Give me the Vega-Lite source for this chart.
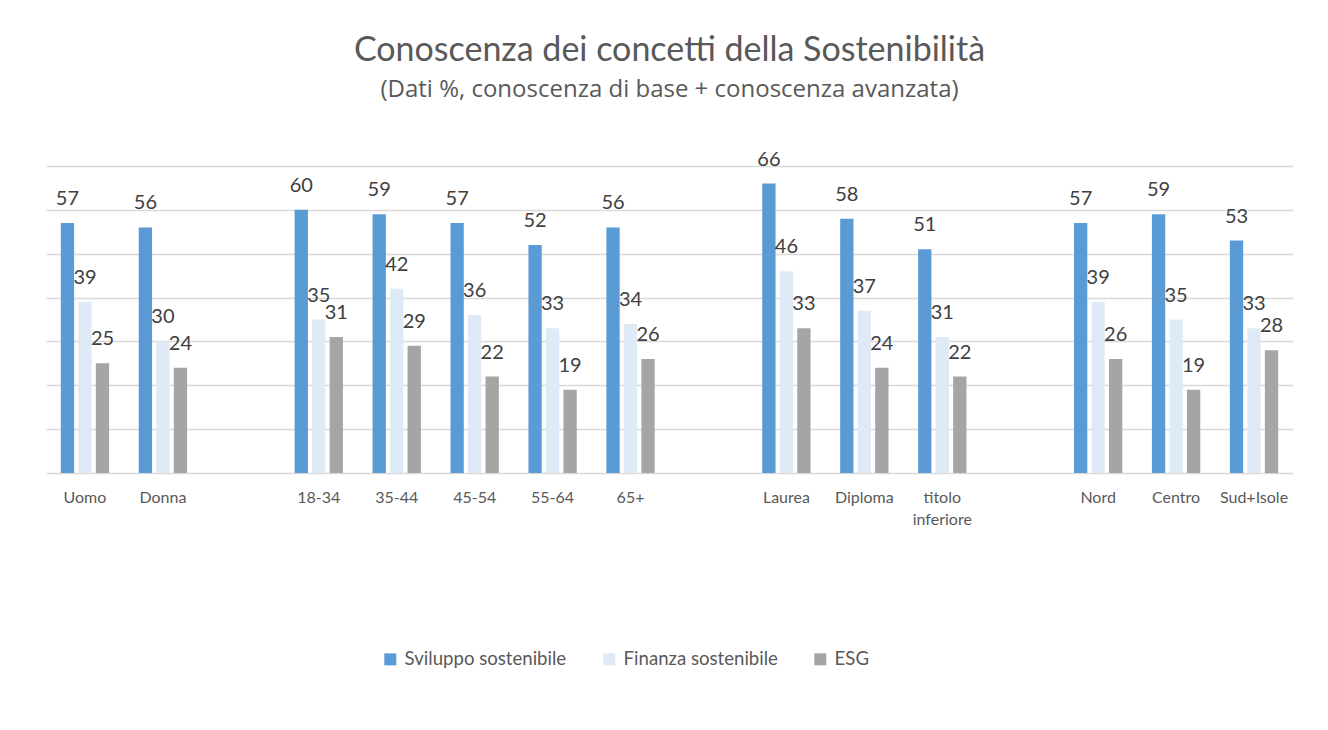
{
  "$schema": "https://vega.github.io/schema/vega-lite/v6.json",
  "width": 1247,
  "height": 307,
  "autosize": {"type": "none"},
  "padding": {"left": 46, "top": 166, "right": 35, "bottom": 257},
  "background": "white",
  "title": {
    "text": "Conoscenza dei concetti della Sostenibilità",
    "subtitle": "(Dati %, conoscenza di base + conoscenza avanzata)",
    "anchor": "middle",
    "font": "Lato",
    "fontSize": 34,
    "fontWeight": "normal",
    "color": "#595959",
    "subtitleFont": "Open Sans",
    "subtitleFontSize": 24,
    "subtitleColor": "#595959",
    "subtitlePadding": 10,
    "offset": 48
  },
  "data": {
    "values": [
      {"cat": "Uomo", "serie": "Sviluppo sostenibile", "v": 57},
      {"cat": "Uomo", "serie": "Finanza sostenibile", "v": 39},
      {"cat": "Uomo", "serie": "ESG", "v": 25},
      {"cat": "Donna", "serie": "Sviluppo sostenibile", "v": 56},
      {"cat": "Donna", "serie": "Finanza sostenibile", "v": 30},
      {"cat": "Donna", "serie": "ESG", "v": 24},
      {"cat": "18-34", "serie": "Sviluppo sostenibile", "v": 60},
      {"cat": "18-34", "serie": "Finanza sostenibile", "v": 35},
      {"cat": "18-34", "serie": "ESG", "v": 31},
      {"cat": "35-44", "serie": "Sviluppo sostenibile", "v": 59},
      {"cat": "35-44", "serie": "Finanza sostenibile", "v": 42},
      {"cat": "35-44", "serie": "ESG", "v": 29},
      {"cat": "45-54", "serie": "Sviluppo sostenibile", "v": 57},
      {"cat": "45-54", "serie": "Finanza sostenibile", "v": 36},
      {"cat": "45-54", "serie": "ESG", "v": 22},
      {"cat": "55-64", "serie": "Sviluppo sostenibile", "v": 52},
      {"cat": "55-64", "serie": "Finanza sostenibile", "v": 33},
      {"cat": "55-64", "serie": "ESG", "v": 19},
      {"cat": "65+", "serie": "Sviluppo sostenibile", "v": 56},
      {"cat": "65+", "serie": "Finanza sostenibile", "v": 34},
      {"cat": "65+", "serie": "ESG", "v": 26},
      {"cat": "Laurea", "serie": "Sviluppo sostenibile", "v": 66},
      {"cat": "Laurea", "serie": "Finanza sostenibile", "v": 46},
      {"cat": "Laurea", "serie": "ESG", "v": 33},
      {"cat": "Diploma", "serie": "Sviluppo sostenibile", "v": 58},
      {"cat": "Diploma", "serie": "Finanza sostenibile", "v": 37},
      {"cat": "Diploma", "serie": "ESG", "v": 24},
      {"cat": "titolo inferiore", "serie": "Sviluppo sostenibile", "v": 51},
      {"cat": "titolo inferiore", "serie": "Finanza sostenibile", "v": 31},
      {"cat": "titolo inferiore", "serie": "ESG", "v": 22},
      {"cat": "Nord", "serie": "Sviluppo sostenibile", "v": 57},
      {"cat": "Nord", "serie": "Finanza sostenibile", "v": 39},
      {"cat": "Nord", "serie": "ESG", "v": 26},
      {"cat": "Centro", "serie": "Sviluppo sostenibile", "v": 59},
      {"cat": "Centro", "serie": "Finanza sostenibile", "v": 35},
      {"cat": "Centro", "serie": "ESG", "v": 19},
      {"cat": "Sud+Isole", "serie": "Sviluppo sostenibile", "v": 53},
      {"cat": "Sud+Isole", "serie": "Finanza sostenibile", "v": 33},
      {"cat": "Sud+Isole", "serie": "ESG", "v": 28}
    ]
  },
  "encoding": {
    "x": {
      "field": "cat",
      "type": "nominal",
      "scale": {
        "domain": ["Uomo", "Donna", "_1", "18-34", "35-44", "45-54", "55-64", "65+", "_2", "Laurea", "Diploma", "titolo inferiore", "_3", "Nord", "Centro", "Sud+Isole"],
        "paddingInner": 0.38,
        "paddingOuter": 0.19
      },
      "axis": {
        "title": null,
        "labelAngle": 0,
        "labelExpr": "test(/^_/, datum.value) ? '' : split(datum.value, ' ')",
        "labelFont": "Lato",
        "labelFontSize": 16,
        "labelColor": "#595959",
        "labelPadding": 29,
        "labelLineHeight": 22,
        "labelBaseline": "alphabetic",
        "ticks": false,
        "domain": false,
        "grid": false
      }
    },
    "xOffset": {
      "field": "serie",
      "type": "nominal",
      "scale": {
        "domain": ["Sviluppo sostenibile", "Finanza sostenibile", "ESG"],
        "paddingInner": 0.24,
        "paddingOuter": 0
      }
    },
    "y": {
      "field": "v",
      "type": "quantitative",
      "scale": {"domain": [0, 70], "nice": false},
      "axis": {
        "title": null,
        "labels": false,
        "ticks": false,
        "domain": false,
        "grid": true,
        "values": [0, 10, 20, 30, 40, 50, 60, 70],
        "gridColor": "#D9D9D9",
        "gridWidth": 1.3
      }
    }
  },
  "layer": [
    {
      "mark": {"type": "bar"},
      "encoding": {
        "color": {
          "field": "serie",
          "type": "nominal",
          "scale": {
            "domain": ["Sviluppo sostenibile", "Finanza sostenibile", "ESG"],
            "range": ["#5B9BD5", "#DEEBF7", "#A5A5A5"]
          },
          "legend": {
            "title": null,
            "orient": "none",
            "legendX": 335,
            "legendY": 484,
            "direction": "horizontal",
            "symbolType": "square",
            "symbolSize": 144,
            "symbolStrokeWidth": 0,
            "labelFont": "Lato",
            "labelFontSize": 18.6,
            "labelLimit": 0,
            "labelColor": "#595959",
            "labelOffset": 5,
            "columnPadding": 33
          }
        }
      }
    },
    {
      "mark": {
        "type": "text",
        "baseline": "alphabetic",
        "dy": -18,
        "font": "Lato",
        "fontSize": 20,
        "color": "#404040"
      },
      "encoding": {
        "text": {"field": "v", "type": "quantitative", "format": ".0f"}
      }
    }
  ],
  "config": {
    "view": {"stroke": null}
  }
}
